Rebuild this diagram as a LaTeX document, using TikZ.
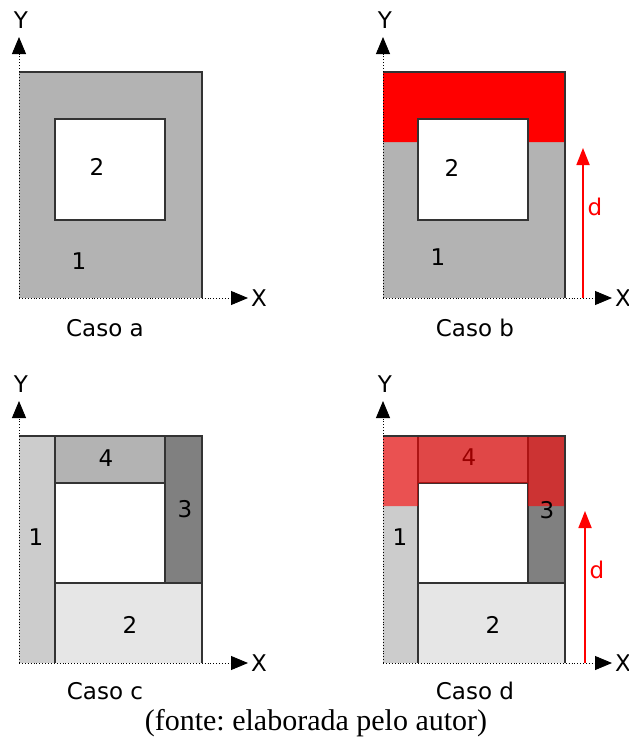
\documentclass[tikz,border=0pt]{standalone}
\usepackage{fontspec}
\setmainfont{Liberation Serif}
\newfontfamily\verd{DejaVu Sans}
\usetikzlibrary{arrows.meta}
\definecolor{grayA}{HTML}{B3B3B3}
\definecolor{grayB}{HTML}{CCCCCC}
\definecolor{grayC}{HTML}{808080}
\definecolor{grayD}{HTML}{E6E6E6}
\definecolor{edge}{HTML}{333333}
\frenchspacing
\begin{document}
\begin{tikzpicture}[x=1pt,y=-1pt,line join=miter,
  axis/.style={dotted,line width=0.9pt,-{Triangle[length=17pt,width=14pt]}},
  rim/.style={draw=edge,line width=1.2pt},
  lbl/.style={font=\verd\fontsize{23}{27}\selectfont,inner sep=0pt},
  push/.style={red,line width=1.8pt,-{Triangle[length=17pt,width=13pt]}}]
  \useasboundingbox (0,0) rectangle (629,747);
  % Caso a
  \coordinate (oa) at (19,298);
  \coordinate (ya) at (19,37);
  \coordinate (xa) at (248,298);
  \fill[grayA] (oa) rectangle (202,72);
  \draw[rim] (19,72) -- (202,72) -- (202,298);
  \draw[rim,fill=white] (55,119) rectangle (165,220);
  \draw[axis] (oa) -- (ya);
  \draw[axis] (oa) -- (xa);
  \node[lbl] (Ya) at (21,20) {Y};
  \node[lbl,anchor=west] (Xa) at (251,298) {X};
  \node[lbl] (a2) at (97,167) {2};
  \node[lbl] (a1) at (79,261) {1};
  \node[lbl] (capa) at (105,328) {Caso a};
  % Caso b
  \coordinate (ob) at (383,298);
  \coordinate (yb) at (383,37);
  \coordinate (xb) at (612,298);
  \fill[grayA] (ob) rectangle (565,72);
  \fill[red] (383,72) -- (565,72) -- (565,142) -- (528,142) -- (528,119)
    -- (418,119) -- (418,142) -- (383,142) -- cycle;
  \draw[rim] (383,72) -- (565,72) -- (565,298);
  \draw[rim,fill=white] (418,119) rectangle (528,220);
  \draw[axis] (ob) -- (yb);
  \draw[axis] (ob) -- (xb);
  \node[lbl] (Yb) at (385,20) {Y};
  \node[lbl,anchor=west] (Xb) at (615,298) {X};
  \node[lbl] (b2) at (452,168) {2};
  \node[lbl] (b1) at (438,257) {1};
  \coordinate (db0) at (583,298);
  \coordinate (db1) at (583,148);
  \draw[push] (db0) -- (db1);
  \node[lbl,red] (db) at (595,207) {d};
  \node[lbl] (capb) at (475,328) {Caso b};
  % Caso c
  \coordinate (oc) at (19,663);
  \coordinate (yc) at (19,401);
  \coordinate (xc) at (248,663);
  \fill[grayB] (19,436) rectangle (55,663);
  \fill[grayA] (55,436) rectangle (165,483);
  \fill[grayC] (165,436) rectangle (202,583);
  \fill[grayD] (55,583) rectangle (202,663);
  \draw[rim] (19,436) -- (202,436) -- (202,663);
  \draw[rim] (55,436) -- (55,663);
  \draw[rim] (55,483) -- (165,483);
  \draw[rim] (165,436) -- (165,583);
  \draw[rim] (55,583) -- (202,583);
  \draw[axis] (oc) -- (yc);
  \draw[axis] (oc) -- (xc);
  \node[lbl] (Yc) at (21,384) {Y};
  \node[lbl,anchor=west] (Xc) at (251,663) {X};
  \node[lbl] (c1) at (36,537) {1};
  \node[lbl] (c4) at (106,458) {4};
  \node[lbl] (c3) at (185,509) {3};
  \node[lbl] (c2) at (130,625) {2};
  \node[lbl] (capc) at (105,691) {Caso c};
  % Caso d
  \coordinate (od) at (383,663);
  \coordinate (yd) at (383,401);
  \coordinate (xd) at (612,663);
  \fill[grayB] (383,436) rectangle (418,663);
  \fill[grayA] (418,436) rectangle (528,483);
  \fill[grayC] (528,436) rectangle (565,583);
  \fill[grayD] (418,583) rectangle (565,663);
  \draw[rim] (418,436) -- (418,663);
  \draw[rim] (418,483) -- (528,483);
  \draw[rim] (528,436) -- (528,583);
  \draw[rim] (418,583) -- (565,583);
  \node[lbl] (d4) at (469,457) {4};
  \fill[red,fill opacity=0.6] (383,436) -- (565,436) -- (565,506) -- (528,506)
    -- (528,483) -- (418,483) -- (418,506) -- (383,506) -- cycle;
  \draw[rim] (383,436) -- (565,436) -- (565,663);
  \draw[axis] (od) -- (yd);
  \draw[axis] (od) -- (xd);
  \node[lbl] (Yd) at (385,384) {Y};
  \node[lbl,anchor=west] (Xd) at (615,663) {X};
  \node[lbl] (d1) at (400,537) {1};
  \node[lbl] (d3) at (547,510) {3};
  \node[lbl] (d2) at (493,625) {2};
  \coordinate (dd0) at (585,663);
  \coordinate (dd1) at (585,511);
  \draw[push] (dd0) -- (dd1);
  \node[lbl,red] (dd) at (597,570) {d};
  \node[lbl] (capd) at (475,691) {Caso d};
  % fonte
  \node[font=\fontsize{30}{34}\selectfont,inner sep=0pt] (src) at (316,723) {(fonte: elaborada pelo autor)};
\end{tikzpicture}
\end{document}
